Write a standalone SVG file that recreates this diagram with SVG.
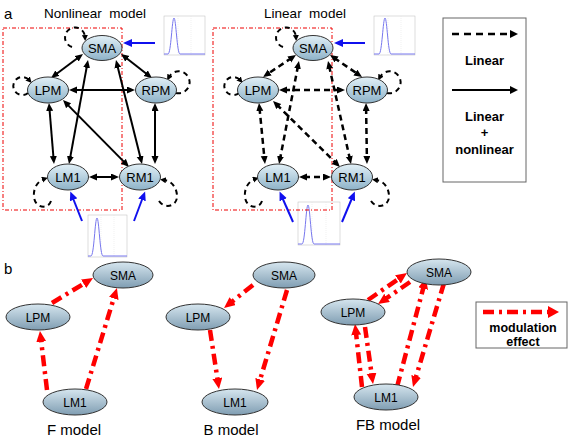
<svg xmlns="http://www.w3.org/2000/svg" width="569" height="438" viewBox="0 0 569 438">
<defs>
<linearGradient id="ga" x1="0" y1="0" x2="0" y2="1"><stop offset="0" stop-color="#e2f0f7"/><stop offset="1" stop-color="#8db2c8"/></linearGradient>
<linearGradient id="gb" x1="0" y1="0" x2="0" y2="1"><stop offset="0" stop-color="#d6e6ef"/><stop offset="1" stop-color="#7f9db2"/></linearGradient>
<marker id="ak" markerUnits="userSpaceOnUse" markerWidth="9" markerHeight="8" refX="3" refY="3.5" orient="auto-start-reverse"><path d="M0,0 L8,3.5 L0,7 z" fill="#000"/></marker>
<marker id="as" markerUnits="userSpaceOnUse" markerWidth="7" markerHeight="7" refX="2" refY="3" orient="auto"><path d="M0,0 L6,3 L0,6 z" fill="#000"/></marker>
<marker id="ab" markerUnits="userSpaceOnUse" markerWidth="10" markerHeight="9" refX="3" refY="4" orient="auto"><path d="M0,0 L9,4 L0,8 z" fill="#1010ee"/></marker>
<marker id="ar" markerUnits="userSpaceOnUse" markerWidth="12" markerHeight="11" refX="3" refY="5" orient="auto"><path d="M0,0 L11,5 L0,10 z" fill="#ff0000"/></marker>
</defs>
<style>
.t{font-family:"Liberation Sans",Arial,sans-serif;fill:#000}
.na{fill:url(#ga);stroke:#333;stroke-width:1}
.nb{fill:url(#gb);stroke:#333;stroke-width:1}
.la{font-size:13px;text-anchor:middle}
.lb{font-size:12px;text-anchor:middle}
.sol{stroke:#000;stroke-width:2;fill:none;marker-start:url(#ak);marker-end:url(#ak)}
.dsh{stroke:#000;stroke-width:2.5;fill:none;stroke-dasharray:6,4;marker-start:url(#ak);marker-end:url(#ak)}
.loop{stroke:#000;stroke-width:2;fill:none;stroke-dasharray:5,4;marker-end:url(#as)}
.blue{stroke:#1010ee;stroke-width:2;fill:none;marker-end:url(#ab)}
.red{stroke:#ff0000;stroke-width:4.5;fill:none;stroke-dasharray:11,5,3,5;marker-end:url(#ar)}
.box{fill:none;stroke:#e00;stroke-width:1;stroke-dasharray:4,2,1,2}
.pf{fill:#fff;stroke:#bbb;stroke-width:0.5}
.pg{stroke:#e2e2e2;stroke-width:0.5;stroke-dasharray:1,1}
.pc{fill:none;stroke:#7777ee;stroke-width:1}
</style>
<rect width="569" height="438" fill="#fff"/>

<!-- plots -->
<g id="plots">
<g><rect class="pf" x="164" y="16" width="41" height="39"/><line class="pg" x1="178" y1="16" x2="178" y2="55"/><line class="pg" x1="191" y1="16" x2="191" y2="55"/><path class="pc" d="M164,54 L168,54 C171,54 172,18 174,18 C176,18 177,54 180,54 L205,54"/></g>
<g><rect class="pf" x="374" y="16" width="41" height="39"/><line class="pg" x1="388" y1="16" x2="388" y2="55"/><line class="pg" x1="401" y1="16" x2="401" y2="55"/><path class="pc" d="M374,54 L379,54 C382,54 383,18 385,18 C387,18 388,54 391,54 L415,54"/></g>
<g><rect class="pf" x="88" y="215" width="39" height="42"/><line class="pg" x1="101" y1="215" x2="101" y2="257"/><line class="pg" x1="114" y1="215" x2="114" y2="257"/><path class="pc" d="M88,256 L91,256 C94,256 95,218 97,218 C99,218 100,256 103,256 L127,256"/></g>
<g><rect class="pf" x="298" y="202" width="42" height="43"/><line class="pg" x1="312" y1="202" x2="312" y2="245"/><line class="pg" x1="326" y1="202" x2="326" y2="245"/><path class="pc" d="M298,244 L302,244 C305,244 306,205 308,205 C310,205 311,244 314,244 L340,244"/></g>
</g>

<rect class="box" x="3" y="28" width="119" height="182"/>
<rect class="box" x="213" y="28" width="119" height="182"/>

<text class="t" x="4" y="19" font-size="15">a</text>
<text class="t" x="95" y="18" font-size="13.5" text-anchor="middle" xml:space="preserve">Nonlinear  model</text>
<text class="t" x="305" y="18" font-size="13.5" text-anchor="middle" xml:space="preserve">Linear  model</text>
<text class="t" x="4" y="274" font-size="15">b</text>

<!-- connectors -->
<g id="connectors">
<g id="nonlinear-edges">
<line class="sol" x1="79" y1="57" x2="55" y2="75"/>
<line class="sol" x1="125" y1="57" x2="148" y2="75"/>
<line class="sol" x1="74" y1="90" x2="130" y2="90"/>
<line class="sol" x1="49.4" y1="108" x2="53.6" y2="159"/>
<line class="sol" x1="155" y1="108" x2="155" y2="159"/>
<line class="sol" x1="87.1" y1="64.9" x2="69.9" y2="159.1"/>
<line class="sol" x1="117.2" y1="64.9" x2="140.8" y2="159.1"/>
<line class="sol" x1="66.5" y1="103.6" x2="125.5" y2="163.4"/>
<line class="sol" x1="94" y1="177" x2="114" y2="177"/>
<path class="loop" d="M72,47 A10,10 0 1 1 85,37"/>
<path class="loop" d="M28,93 A9,9 0 1 1 29,80"/>
<path class="loop" d="M176,93 A11,11 0 1 0 169,77"/>
<path class="loop" d="M51,201 C48,210 35,208 34,197 C33,188 38,181 44,179"/>
<path class="loop" d="M159,201 C165,210 178,206 177,195 C176,186 171,181 164,180"/>
<line class="blue" x1="155" y1="43" x2="129" y2="43"/>
<line class="blue" x1="82" y1="221" x2="72.5" y2="197"/>
<line class="blue" x1="134" y1="221" x2="143" y2="197"/>
</g>
<g id="linear-edges">
<line class="dsh" x1="291.8" y1="57.8" x2="267.2" y2="74.2"/>
<line class="dsh" x1="334.1" y1="57.8" x2="357.9" y2="74.2"/>
<line class="dsh" x1="284" y1="90" x2="340" y2="90"/>
<line class="dsh" x1="259.5" y1="108" x2="264.5" y2="159"/>
<line class="dsh" x1="366.1" y1="108" x2="366.9" y2="159"/>
<line class="dsh" x1="298" y1="65.9" x2="280" y2="159.1"/>
<line class="dsh" x1="329.1" y1="65.9" x2="349.9" y2="159.1"/>
<line class="dsh" x1="276.6" y1="104.5" x2="336.4" y2="163.5"/>
<line class="dsh" x1="304" y1="177" x2="326" y2="177"/>
<path class="loop" d="M283,47 A10,10 0 1 1 296,37"/>
<path class="loop" d="M239,93 A9,9 0 1 1 240,80"/>
<path class="loop" d="M387,93 A11,11 0 1 0 380,77"/>
<path class="loop" d="M262,201 C259,210 246,208 245,197 C244,188 249,181 255,179"/>
<path class="loop" d="M371,201 C377,210 390,206 389,195 C388,186 383,181 376,180"/>
<line class="blue" x1="365" y1="43" x2="340" y2="43"/>
<line class="blue" x1="293" y1="222" x2="282" y2="197"/>
<line class="blue" x1="342" y1="222" x2="352.5" y2="197"/>
</g>
<g id="modulation-edges">
<line class="red" x1="52" y1="303" x2="86.2" y2="282.2"/>
<line class="red" x1="47" y1="390" x2="40.9" y2="338.9"/>
<line class="red" x1="86" y1="389" x2="114.6" y2="295.6"/>
<line class="red" x1="253" y1="285" x2="230.3" y2="303"/>
<line class="red" x1="210" y1="330" x2="217.8" y2="381.1"/>
<line class="red" x1="287" y1="290" x2="259.3" y2="382.3"/>
<line class="red" x1="368" y1="300" x2="400.4" y2="277.6"/>
<line class="red" x1="410" y1="282" x2="384.6" y2="299.5"/>
<line class="red" x1="362" y1="387" x2="355.9" y2="332"/>
<line class="red" x1="365" y1="327" x2="371.9" y2="376.1"/>
<line class="red" x1="397" y1="387" x2="423.9" y2="285.7"/>
<line class="red" x1="444" y1="283" x2="415.3" y2="379.3"/>
</g>
</g>

<!-- nonlinear nodes -->
<g id="nl-SMA"><ellipse class="na" cx="102" cy="48" rx="20" ry="12.5"/><text class="t la" x="102" y="52.5">SMA</text></g>
<g id="nl-LPM"><ellipse class="na" cx="48" cy="90" rx="20.5" ry="13"/><text class="t la" x="48" y="94.5">LPM</text></g>
<g id="nl-RPM"><ellipse class="na" cx="156" cy="90" rx="20.5" ry="13"/><text class="t la" x="156" y="94.5">RPM</text></g>
<g id="nl-LM1"><ellipse class="na" cx="68" cy="177" rx="20.5" ry="13"/><text class="t la" x="68" y="181.5">LM1</text></g>
<g id="nl-RM1"><ellipse class="na" cx="140" cy="177" rx="20.5" ry="13"/><text class="t la" x="140" y="181.5">RM1</text></g>

<!-- linear nodes -->
<g id="l-SMA"><ellipse class="na" cx="313" cy="48" rx="20" ry="12.5"/><text class="t la" x="313" y="52.5">SMA</text></g>
<g id="l-LPM"><ellipse class="na" cx="258" cy="90" rx="20.5" ry="13"/><text class="t la" x="258" y="94.5">LPM</text></g>
<g id="l-RPM"><ellipse class="na" cx="367" cy="90" rx="20.5" ry="13"/><text class="t la" x="367" y="94.5">RPM</text></g>
<g id="l-LM1"><ellipse class="na" cx="278" cy="177" rx="20.5" ry="13"/><text class="t la" x="278" y="181.5">LM1</text></g>
<g id="l-RM1"><ellipse class="na" cx="352" cy="177" rx="20.5" ry="13"/><text class="t la" x="352" y="181.5">RM1</text></g>

<!-- legend a -->
<g id="legend-a">
<rect x="443" y="18" width="83" height="164" fill="#fff" stroke="#666" stroke-width="1"/>
<line x1="452" y1="34" x2="511" y2="34" stroke="#000" stroke-width="2.5" stroke-dasharray="7,5"/>
<path d="M510,30 L518,34 L510,38 z" fill="#000"/>
<line x1="452" y1="90" x2="511" y2="90" stroke="#000" stroke-width="2"/>
<path d="M510,86 L518,90 L510,94 z" fill="#000"/>
<text class="t" x="484.5" y="65" font-size="13" font-weight="bold" text-anchor="middle">Linear</text>
<text class="t" x="484.5" y="121" font-size="13" font-weight="bold" text-anchor="middle">Linear</text>
<text class="t" x="484.5" y="137" font-size="13" font-weight="bold" text-anchor="middle">+</text>
<text class="t" x="484.5" y="154" font-size="13" font-weight="bold" text-anchor="middle">nonlinear</text>
</g>

<!-- panel b nodes -->
<g id="f-SMA"><ellipse class="nb" cx="123" cy="275" rx="30" ry="13"/><text class="t lb" x="123" y="279.5">SMA</text></g>
<g id="f-LPM"><ellipse class="nb" cx="38" cy="317" rx="32" ry="13"/><text class="t lb" x="38" y="321.5">LPM</text></g>
<g id="f-LM1"><ellipse class="nb" cx="75" cy="402" rx="32" ry="13"/><text class="t lb" x="75" y="406.5">LM1</text></g>
<g id="b-SMA"><ellipse class="nb" cx="284" cy="275" rx="31" ry="13"/><text class="t lb" x="284" y="279.5">SMA</text></g>
<g id="b-LPM"><ellipse class="nb" cx="198" cy="317" rx="32" ry="13"/><text class="t lb" x="198" y="321.5">LPM</text></g>
<g id="b-LM1"><ellipse class="nb" cx="235" cy="402" rx="33" ry="13"/><text class="t lb" x="235" y="406.5">LM1</text></g>
<g id="fb-SMA"><ellipse class="nb" cx="439" cy="272" rx="32" ry="13"/><text class="t lb" x="439" y="276.5">SMA</text></g>
<g id="fb-LPM"><ellipse class="nb" cx="353" cy="312" rx="32" ry="13"/><text class="t lb" x="353" y="316.5">LPM</text></g>
<g id="fb-LM1"><ellipse class="nb" cx="386" cy="397" rx="32" ry="13"/><text class="t lb" x="386" y="401.5">LM1</text></g>

<text class="t" x="74" y="435" font-size="15" text-anchor="middle">F model</text>
<text class="t" x="231" y="435" font-size="15" text-anchor="middle">B model</text>
<text class="t" x="388" y="430" font-size="15" text-anchor="middle">FB model</text>

<!-- legend b -->
<g id="legend-b">
<rect x="476" y="302" width="91" height="46" fill="#fff" stroke="#666" stroke-width="1"/>
<line x1="483" y1="312" x2="550" y2="312" stroke="#ff0000" stroke-width="4.5" stroke-dasharray="11,5,3,5"/>
<path d="M548,306 L559,312 L548,318 z" fill="#ff0000"/>
<text class="t" x="523" y="331.5" font-size="12.5" font-weight="bold" text-anchor="middle">modulation</text>
<text class="t" x="523" y="345.5" font-size="12.5" font-weight="bold" text-anchor="middle">effect</text>
</g>
</svg>
